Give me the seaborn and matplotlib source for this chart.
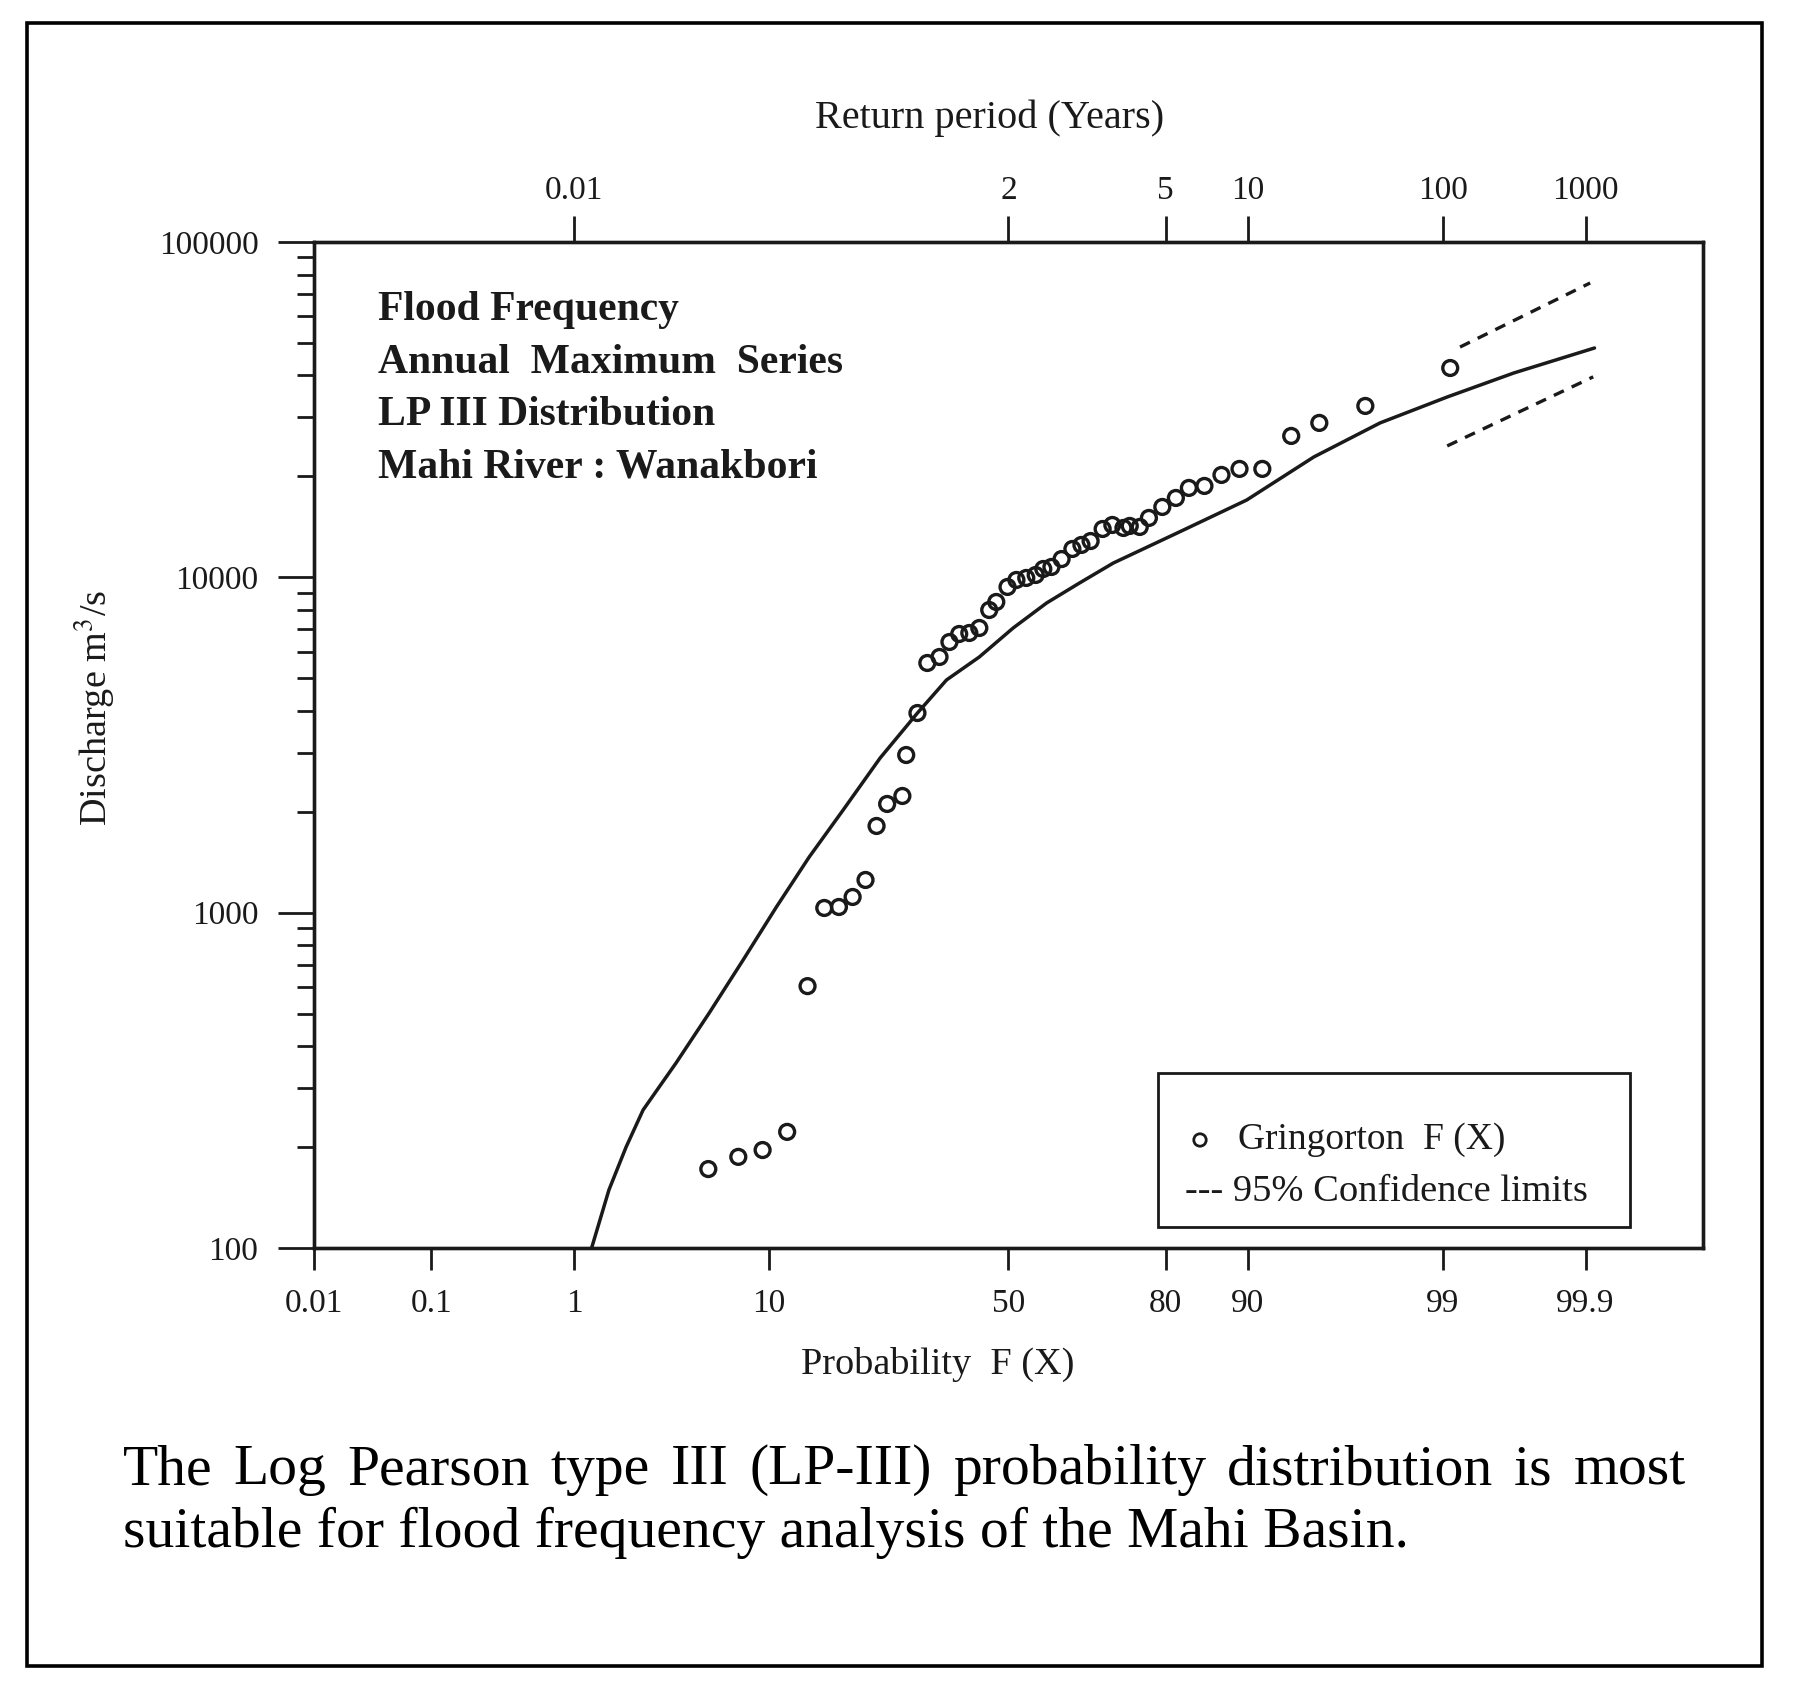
"""
Flood frequency plot: LP III distribution fitted to the annual maximum series
of the Mahi River at Wanakbori, drawn on normal probability paper.
"""

import math
import numpy as np
import matplotlib
matplotlib.use("Agg")
import matplotlib.pyplot as plt
from matplotlib.patches import Rectangle
from matplotlib.ticker import FixedLocator, NullLocator, NullFormatter
import seaborn as sns

# ---- data ---------------------------------------------------------------
# Gringorton plotting positions, F (%) and discharge (m3/s)
gring_prob = [5.4, 7.4, 9.4, 11.8, 14.1, 16.2, 18.2, 20.2, 22.2, 24.0,
              25.8, 28.5, 29.2, 31.3, 33.2, 35.6, 37.6, 39.6, 41.7, 43.8,
              45.9, 47.4, 49.8, 51.7, 53.8, 55.8, 57.4, 59.1, 61.2, 63.4,
              65.2, 67.0, 69.3, 71.1, 73.1, 74.2, 75.9, 77.4, 79.5, 81.5,
              83.3, 85.3, 87.3, 89.2, 91.3, 93.5, 95.2, 97.2, 99.1]
gring_q = [172, 187, 196, 222, 604, 1033, 1040, 1114, 1252, 1814,
           2110, 2229, 2953, 3940, 5555, 5789, 6416, 6779, 6826, 7064,
           7993, 8446, 9363, 9824, 9960, 10166, 10593, 10740, 11341, 12154,
           12494, 12834, 13942, 14332, 14040, 14236, 14137, 15040, 16218, 17250,
           18480, 18735, 20207, 21060, 21060, 26410, 28880, 32450, 42110]

# fitted LP III curve
lp3_prob = [1.28, 1.62, 2.03, 2.52, 3.07, 3.75, 5.45, 7.77, 10.7, 14.3,
            18.8, 24.6, 31.3, 37.0, 43.8, 51.0, 58.1, 64.8, 71.3, 82.0,
            89.9, 94.9, 97.67, 99.06, 99.66, 99.915]
lp3_q = [100, 149, 200, 258, 302, 356, 502, 723, 1040, 1466,
         2024, 2893, 3940, 4943, 5789, 7063, 8388, 9617, 11040, 13660,
         17010, 22860, 28880, 34510, 40700, 48310]

# 95% confidence limits
upper_prob = [99.22, 99.908]
upper_q = [48630, 75500]
lower_prob = [99.06, 99.913]
lower_q = [24660, 39630]

prob_ticks = [0.01, 0.1, 1, 10, 50, 80, 90, 99, 99.9]
prob_labels = ["0.01", "0.1", "1", "10", "50", "80", "90", "99", "99.9"]
rp_ticks = [1, 50, 80, 90, 99, 99.9]
rp_labels = ["0.01", "2", "5", "10", "100", "1000"]
q_ticks = [100, 1000, 10000, 100000]
q_labels = ["100", "1000", "10000", "100000"]

info_lines = ["Flood Frequency", "Annual  Maximum  Series",
              "LP III Distribution", "Mahi River : Wanakbori"]
caption = ["The Log Pearson type III (LP-III) probability distribution is most",
           "suitable for flood frequency analysis of the Mahi Basin."]


def norm_ppf(p):
    """inverse normal CDF (Acklam's rational approximation)"""
    p = np.clip(np.atleast_1d(np.asarray(p, dtype=float)), 1e-12, 1 - 1e-12)
    a = [-3.969683028665376e+01, 2.209460984245205e+02, -2.759285104469687e+02,
         1.383577518672690e+02, -3.066479806614716e+01, 2.506628277459239e+00]
    b = [-5.447609879822406e+01, 1.615858368580409e+02, -1.556989798598866e+02,
         6.680131188771972e+01, -1.328068155288572e+01]
    c = [-7.784894002430293e-03, -3.223964580411365e-01, -2.400758277161838e+00,
         -2.549732539343734e+00, 4.374664141464968e+00, 2.938163982698783e+00]
    d = [7.784695709041462e-03, 3.224671290700398e-01, 2.445134137142996e+00,
         3.754408661907416e+00]
    plow = 0.02425
    z = np.empty_like(p)
    lo = p < plow
    hi = p > 1 - plow
    mid = ~(lo | hi)

    q = np.sqrt(-2 * np.log(p[lo]))
    z[lo] = ((((((c[0]*q + c[1])*q + c[2])*q + c[3])*q + c[4])*q + c[5]) /
             ((((d[0]*q + d[1])*q + d[2])*q + d[3])*q + 1))
    q = p[mid] - 0.5
    r = q * q
    z[mid] = ((((((a[0]*r + a[1])*r + a[2])*r + a[3])*r + a[4])*r + a[5]) * q /
              (((((b[0]*r + b[1])*r + b[2])*r + b[3])*r + b[4])*r + 1))
    q = np.sqrt(-2 * np.log(1 - p[hi]))
    z[hi] = -((((((c[0]*q + c[1])*q + c[2])*q + c[3])*q + c[4])*q + c[5]) /
              ((((d[0]*q + d[1])*q + d[2])*q + d[3])*q + 1))
    return z


_erf = np.vectorize(math.erf)


def prob_to_z(x):
    return norm_ppf(np.asarray(x, dtype=float) / 100.0)


def z_to_prob(z):
    z = np.atleast_1d(np.asarray(z, dtype=float))
    return 50.0 * (1 + _erf(z / math.sqrt(2)))


def justify_line(fig, text, x0_px, x1_px, y, **kw):
    """spread the words of one line evenly between x0_px and x1_px"""
    words = text.split()
    renderer = fig.canvas.get_renderer()
    figw = fig.bbox.width
    items = [fig.text(0, y, w, va="center", ha="left", **kw) for w in words]
    widths = [t.get_window_extent(renderer).width for t in items]
    gap = (x1_px - x0_px - sum(widths)) / (len(words) - 1)
    x = x0_px
    for t, w in zip(items, widths):
        t.set_x(x / figw)
        x += w + gap


def run_plot():
    sns.set_theme(style="white")
    plt.rcParams["font.family"] = ["Liberation Serif", "DejaVu Serif"]
    plt.rcParams["mathtext.fontset"] = "stix"
    ink = "#1a1a1a"

    fig = plt.figure(figsize=(17.96, 16.95), dpi=100)
    ax = fig.add_axes([0.1748, 0.2637, 0.7734, 0.5935])

    sns.lineplot(x=lp3_prob, y=lp3_q, ax=ax, color=ink, linewidth=2.5,
                 legend=False)
    sns.lineplot(x=upper_prob, y=upper_q, ax=ax, color=ink, linewidth=2.4,
                 linestyle=(0, (3.3, 2.6)), legend=False)
    sns.lineplot(x=lower_prob, y=lower_q, ax=ax, color=ink, linewidth=2.4,
                 linestyle=(0, (3.3, 2.6)), legend=False)
    sns.scatterplot(x=gring_prob, y=gring_q, ax=ax, marker="o", s=115,
                    facecolor="none", edgecolor=ink, linewidth=2.4,
                    legend=False, zorder=3)

    ax.set_xscale("function", functions=(prob_to_z, z_to_prob))
    ax.set_yscale("log")
    ax.set_xlim(0.01, 99.99)
    ax.set_ylim(100, 100000)

    ax.xaxis.set_major_locator(FixedLocator(prob_ticks))
    ax.set_xticklabels(prob_labels)
    ax.xaxis.set_minor_locator(NullLocator())
    ax.yaxis.set_major_locator(FixedLocator(q_ticks))
    ax.set_yticklabels(q_labels)
    ax.yaxis.set_minor_formatter(NullFormatter())
    ax.xaxis.tick_bottom()
    ax.yaxis.tick_left()
    ax.tick_params(axis="x", which="major", direction="out", length=16,
                   width=2, color=ink, labelsize=24, pad=13, labelcolor=ink)
    ax.tick_params(axis="y", which="major", direction="out", length=26,
                   width=2, color=ink, labelsize=24, pad=14, labelcolor=ink)
    ax.tick_params(axis="y", which="minor", direction="out", length=12,
                   width=2, color=ink, left=True)
    for sp in ax.spines.values():
        sp.set_linewidth(2.4)
        sp.set_color(ink)

    ax.set_xlabel("Probability  F (X)", fontsize=27.5, color=ink)
    ax.xaxis.set_label_coords(0.449, -0.116)
    ax.xaxis.label.set_va("center")
    ax.set_ylabel("Discharge m$^3$/s", fontsize=27.5, color=ink)
    ax.yaxis.set_label_coords(-0.158, 0.537)
    ax.yaxis.label.set_va("center")

    # return period axis on top
    ax2 = ax.twiny()
    ax2.set_xscale("function", functions=(prob_to_z, z_to_prob))
    ax2.set_xlim(ax.get_xlim())
    ax2.xaxis.set_major_locator(FixedLocator(rp_ticks))
    ax2.set_xticklabels(rp_labels)
    ax2.xaxis.set_minor_locator(NullLocator())
    ax2.tick_params(axis="x", which="major", direction="out", length=19,
                    width=2, color=ink, labelsize=24, pad=7, labelcolor=ink)
    for sp in ax2.spines.values():
        sp.set_linewidth(2.4)
        sp.set_color(ink)
    ax2.set_xlabel("Return period (Years)", fontsize=29, color=ink)
    ax2.xaxis.set_label_coords(0.4867, 1.123)
    ax2.xaxis.label.set_va("center")

    # info block
    for k, line in enumerate(info_lines):
        ax.text(0.046, 0.932 - k * 0.052, line, transform=ax.transAxes,
                fontsize=30, fontweight="bold", color=ink, va="center",
                ha="left")

    # legend box
    ax.add_patch(Rectangle((0.6076, 0.0209), 0.3398, 0.1531,
                           transform=ax.transAxes, fill=False,
                           edgecolor=ink, linewidth=2.0, zorder=4))
    ax.scatter([0.6379], [0.1074], transform=ax.transAxes, s=80,
               facecolor="none", edgecolor=ink, linewidth=2.0, zorder=5)
    ax.text(0.6652, 0.1074, "Gringorton  F (X)", transform=ax.transAxes,
            fontsize=27, color=ink, va="center", ha="left")
    ax.text(0.627, 0.0557, "--- 95% Confidence limits", transform=ax.transAxes,
            fontsize=27.7, color=ink, va="center", ha="left")

    # caption under the chart, first line justified
    justify_line(fig, caption[0], 123, 1686, 0.1327, fontsize=41.5,
                 color="black")
    fig.text(123 / 1796, 0.0956, caption[1], fontsize=41.5, color="black",
             va="center", ha="left")

    # outer frame
    fig.add_artist(Rectangle((0.0153, 0.0171), 0.9658, 0.9693,
                             transform=fig.transFigure, fill=False,
                             edgecolor="black", linewidth=2.6))

    fig.savefig("out.png", dpi=100)


if __name__ == "__main__":
    run_plot()
